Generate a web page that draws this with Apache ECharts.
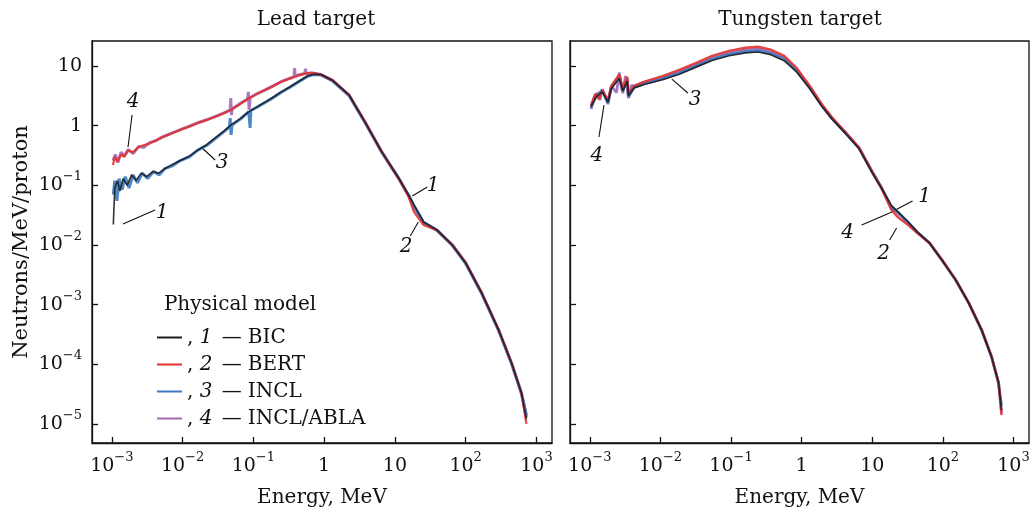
<!DOCTYPE html>
<html>
<head>
<meta charset="utf-8">
<script src="https://cdn.jsdelivr.net/npm/echarts@6/dist/echarts.min.js"></script>
<style>
  html, body { margin: 0; padding: 0; background: #fff; }
  #chart { width: 1032px; height: 507px; }
</style>
</head>
<body>
<div id="chart"></div>
<script>
// energy in MeV, flux in neutrons/MeV/proton
const leadBIC = [
  [1.05e-3, 0.022], [1.1e-3, 0.09], [1.2e-3, 0.12], [1.3e-3, 0.08], [1.45e-3, 0.13], [1.65e-3, 0.10],
  [1.9e-3, 0.15], [2.2e-3, 0.12], [2.6e-3, 0.16], [3.1e-3, 0.14], [3.8e-3, 0.17], [4.6e-3, 0.16],
  [5.6e-3, 0.19], [7e-3, 0.22], [9.3e-3, 0.26], [0.0125, 0.31], [0.0164, 0.39], [0.022, 0.48],
  [0.0286, 0.62], [0.038, 0.8], [0.0485, 1.03], [0.065, 1.3], [0.0849, 1.69], [0.11, 2.05],
  [0.147, 2.49], [0.19, 3.0], [0.245, 3.66], [0.33, 4.5], [0.422, 5.4], [0.581, 6.8], [0.72, 7.3],
  [0.9, 7.2], [1.3, 5.8], [2.25, 3.27], [3.78, 1.15], [6.56, 0.36], [11.3, 0.133], [15.5, 0.07],
  [18.6, 0.047], [25.4, 0.0243], [39.3, 0.0179], [64.7, 0.0100], [100, 0.0050], [168, 0.00157],
  [292, 3.77e-4], [445, 1.05e-4], [615, 3.3e-5], [723, 1.2e-5]
];
const leadBERT = [
  [1.04e-3, 0.22], [1.1e-3, 0.3], [1.2e-3, 0.25], [1.35e-3, 0.33], [1.5e-3, 0.3], [1.7e-3, 0.38],
  [2e-3, 0.36], [2.4e-3, 0.44], [2.8e-3, 0.47], [3.4e-3, 0.5], [4.2e-3, 0.57], [5.2e-3, 0.64],
  [7e-3, 0.74], [9.3e-3, 0.85], [0.0125, 0.97], [0.0164, 1.11], [0.022, 1.25], [0.0286, 1.4],
  [0.038, 1.62], [0.0485, 1.85], [0.065, 2.3], [0.0849, 2.85], [0.11, 3.35], [0.147, 3.96],
  [0.19, 4.6], [0.245, 5.4], [0.33, 6.2], [0.422, 6.9], [0.581, 7.6], [0.72, 7.6], [0.9, 7.2],
  [1.3, 5.85], [2.25, 3.3], [3.78, 1.17], [6.56, 0.36], [11.3, 0.13], [15.5, 0.066], [18.6, 0.036],
  [25.4, 0.0216], [39.3, 0.0177], [64.7, 0.0101], [100, 0.0051], [168, 0.0016], [292, 3.8e-4],
  [445, 1.06e-4], [615, 3.2e-5], [723, 1.0e-5]
];
const leadINCL = [
  [1.05e-3, 0.07], [1.1e-3, 0.12], [1.18e-3, 0.055], [1.27e-3, 0.13], [1.4e-3, 0.085], [1.55e-3, 0.14],
  [1.75e-3, 0.09], [2e-3, 0.15], [2.3e-3, 0.11], [2.7e-3, 0.16], [3.2e-3, 0.13], [3.9e-3, 0.17],
  [4.7e-3, 0.15], [5.6e-3, 0.19], [7e-3, 0.21], [9.3e-3, 0.26], [0.0125, 0.3], [0.0164, 0.39],
  [0.022, 0.47], [0.0286, 0.6], [0.038, 0.79], [0.046, 0.95], [0.047, 1.34], [0.0485, 0.70],
  [0.05, 1.03], [0.065, 1.28], [0.086, 1.72], [0.088, 1.85], [0.09, 0.92], [0.092, 1.8],
  [0.11, 2.0], [0.147, 2.45], [0.19, 2.95], [0.245, 3.6], [0.33, 4.4], [0.422, 5.3], [0.581, 6.7],
  [0.72, 7.2], [0.9, 7.1], [1.3, 5.7], [2.25, 3.2], [3.78, 1.13], [6.56, 0.355], [11.3, 0.131],
  [15.5, 0.069], [18.6, 0.045], [25.4, 0.0235], [39.3, 0.0176], [64.7, 0.0099], [100, 0.0049],
  [168, 0.00155], [292, 3.7e-4], [445, 1.03e-4], [615, 3.2e-5], [723, 1.3e-5]
];
const leadABLA = [
  [1.04e-3, 0.26], [1.12e-3, 0.33], [1.22e-3, 0.24], [1.35e-3, 0.36], [1.5e-3, 0.31], [1.7e-3, 0.4],
  [2e-3, 0.34], [2.4e-3, 0.45], [2.8e-3, 0.43], [3.4e-3, 0.52], [4.2e-3, 0.56], [5.2e-3, 0.65],
  [7e-3, 0.75], [9.3e-3, 0.86], [0.0125, 0.98], [0.0164, 1.12], [0.022, 1.26], [0.0286, 1.42],
  [0.038, 1.63], [0.047, 1.82], [0.048, 2.9], [0.049, 1.5], [0.05, 1.9], [0.065, 2.35], [0.083, 2.8],
  [0.085, 3.7], [0.087, 1.85], [0.09, 2.95], [0.11, 3.4], [0.147, 4.0], [0.19, 4.65], [0.245, 5.45],
  [0.33, 6.25], [0.375, 6.6], [0.383, 9.2], [0.39, 6.7], [0.422, 7.0], [0.53, 7.5], [0.545, 9.0],
  [0.56, 7.4], [0.65, 7.7], [0.72, 7.6], [0.9, 7.2], [1.3, 5.8], [2.25, 3.25], [3.78, 1.15],
  [6.56, 0.36], [11.3, 0.132], [15.5, 0.069], [18.6, 0.045], [25.4, 0.024], [39.3, 0.0178],
  [64.7, 0.0100], [100, 0.0050], [168, 0.00157], [292, 3.75e-4], [445, 1.04e-4], [615, 3.3e-5],
  [723, 1.4e-5]
];

const tungBIC = [
  [1.04e-3, 2.1], [1.25e-3, 3.1], [1.5e-3, 3.7], [1.81e-3, 2.5], [2.02e-3, 4.2], [2.62e-3, 6.2],
  [2.94e-3, 3.8], [3.4e-3, 5.6], [3.53e-3, 3.2], [4.25e-3, 4.3], [5.94e-3, 4.9], [0.0107, 5.9],
  [0.0185, 7.3], [0.0321, 9.6], [0.054, 12.4], [0.0938, 14.9], [0.16, 16.6], [0.242, 17.2],
  [0.365, 15.5], [0.567, 12.3], [0.855, 7.9], [1.3, 4.2], [1.93, 2.12], [2.68, 1.3], [4.11, 0.76],
  [6.52, 0.41], [10, 0.163], [13.6, 0.089], [18.6, 0.046], [23.2, 0.036], [31.6, 0.025],
  [43.2, 0.0166], [64.7, 0.0108], [96.9, 0.0056], [152, 0.0026], [232, 0.00107], [354, 3.77e-4],
  [490, 1.33e-4], [615, 4.9e-5], [678, 1.7e-5]
];
const tungBERT = [
  [1.04e-3, 2.2], [1.2e-3, 3.4], [1.35e-3, 2.8], [1.5e-3, 4.0], [1.81e-3, 2.7], [2.02e-3, 4.7],
  [2.62e-3, 7.2], [2.94e-3, 4.2], [3.4e-3, 6.6], [3.53e-3, 3.4], [4.25e-3, 4.7], [5.94e-3, 5.5],
  [0.0107, 6.8], [0.0185, 8.6], [0.0321, 11.3], [0.054, 14.8], [0.0938, 18.0], [0.16, 20.3],
  [0.242, 21.1], [0.365, 18.9], [0.567, 14.8], [0.855, 9.2], [1.3, 4.7], [1.93, 2.3], [2.68, 1.38],
  [4.11, 0.8], [6.52, 0.43], [10, 0.17], [13.6, 0.088], [18.6, 0.039], [23.2, 0.029], [31.6, 0.022],
  [43.2, 0.016], [64.7, 0.0108], [96.9, 0.0057], [152, 0.0026], [232, 0.00108], [354, 3.8e-4],
  [490, 1.34e-4], [615, 5.0e-5], [678, 1.4e-5]
];
const tungINCL = [
  [1.04e-3, 2.0], [1.25e-3, 3.3], [1.5e-3, 3.9], [1.81e-3, 2.4], [2.02e-3, 4.4], [2.62e-3, 6.8],
  [2.94e-3, 3.9], [3.4e-3, 6.0], [3.53e-3, 3.0], [4.25e-3, 4.4], [5.94e-3, 5.1], [0.0107, 6.1],
  [0.0185, 7.6], [0.0321, 10.0], [0.054, 13.0], [0.0938, 15.7], [0.16, 17.5], [0.242, 18.2],
  [0.365, 16.3], [0.567, 13.0], [0.855, 8.3], [1.3, 4.35], [1.93, 2.18], [2.68, 1.33], [4.11, 0.77],
  [6.52, 0.42], [10, 0.166], [13.6, 0.09], [18.6, 0.044], [23.2, 0.035], [31.6, 0.0245],
  [43.2, 0.0165], [64.7, 0.0108], [96.9, 0.0056], [152, 0.00259], [232, 0.00107], [354, 3.75e-4],
  [490, 1.32e-4], [615, 4.8e-5], [678, 2.0e-5]
];
const tungABLA = [
  [1.04e-3, 1.9], [1.15e-3, 3.0], [1.25e-3, 3.5], [1.4e-3, 2.7], [1.5e-3, 4.1], [1.81e-3, 2.3],
  [2.02e-3, 4.6], [2.4e-3, 3.6], [2.62e-3, 7.8], [2.8e-3, 4.4], [2.94e-3, 3.5], [3.2e-3, 6.8],
  [3.53e-3, 2.9], [3.9e-3, 4.8], [4.25e-3, 4.5], [5.94e-3, 5.3], [0.0107, 6.4], [0.0185, 8.0],
  [0.0321, 10.5], [0.054, 13.7], [0.0938, 16.6], [0.16, 18.6], [0.242, 19.4], [0.365, 17.3],
  [0.567, 13.7], [0.855, 8.6], [1.3, 4.45], [1.93, 2.22], [2.68, 1.35], [4.11, 0.78], [6.52, 0.42],
  [10, 0.168], [13.6, 0.09], [18.6, 0.043], [23.2, 0.034], [31.6, 0.0243], [43.2, 0.0165],
  [64.7, 0.0108], [96.9, 0.0056], [152, 0.00259], [232, 0.00107], [354, 3.77e-4], [490, 1.33e-4],
  [615, 4.9e-5], [678, 1.5e-5]
];

// decades shown on the axes (log10 of the value)
const xDecades = [-3, -2, -1, 0, 1, 2, 3];
const yDecades = [-5, -4, -3, -2, -1, 0, 1];

const models = ['BIC', 'BERT', 'INCL', 'INCL/ABLA'];
const modelNums = { 'BIC': 1, 'BERT': 2, 'INCL': 3, 'INCL/ABLA': 4 };
const COLORS = { 'BIC': '#1c1c22', 'BERT': '#e0322f', 'INCL': '#3a7bc0', 'INCL/ABLA': '#a46ab6' };
const FONT = 'DejaVu Serif';

// annotation leaders, in [log10 E, log10 F]
const notes = [
  { g: 0, t: '4', at: [-2.70, 0.40], line: [[-2.714, 0.179], [-2.771, -0.357]] },
  { g: 0, t: '3', at: [-1.44, -0.63], line: [[-1.738, -0.357], [-1.540, -0.575]] },
  { g: 0, t: '1', at: [-2.29, -1.46], line: [[-2.842, -1.648], [-2.389, -1.413]] },
  { g: 0, t: '1', at: [1.54, -1.01], line: [[1.246, -1.179], [1.458, -1.028]] },
  { g: 0, t: '2', at: [1.16, -2.03], line: [[1.218, -1.849], [1.331, -1.614]] },
  { g: 1, t: '4', at: [-2.90, -0.51], line: [[-2.870, -0.190], [-2.799, 0.346]] },
  { g: 1, t: '3', at: [-1.51, 0.43], line: [[-1.837, 0.782], [-1.611, 0.548]] },
  { g: 1, t: '1', at: [1.74, -1.195], line: [[1.246, -1.464], [1.571, -1.262]] },
  { g: 1, t: '4', at: [0.65, -1.80], line: [[0.850, -1.665], [1.246, -1.464]] },
  { g: 1, t: '2', at: [1.16, -2.15], line: [[1.246, -1.916], [1.345, -1.715]] }
];

const toLog = arr => arr.map(p => [Math.log10(p[0]), Math.log10(p[1])]);

const powLabel = v => {
  if (v === 0) return '1';
  if (v === 1) return '10';
  return '10{sup|' + (v < 0 ? '\u2212' : '') + Math.abs(v) + '}';
};

const chart = echarts.init(document.getElementById('chart'), null, { renderer: 'canvas' });

const labelStyle = {
  fontFamily: FONT, fontSize: 19, color: '#111', lineHeight: 30,
  rich: { sup: { fontFamily: FONT, fontSize: 13, lineHeight: 14, verticalAlign: 'top', color: '#111' } }
};

const makeX = (gi) => ({
  type: 'value', gridIndex: gi, min: -3.28, max: 3.22,
  name: 'Energy, MeV', nameLocation: 'middle', nameGap: 45,
  nameTextStyle: { fontFamily: FONT, fontSize: 20, color: '#111' },
  axisLine: { show: true, onZero: false, lineStyle: { color: '#111', width: 1.3 } },
  axisTick: { show: true, inside: true, length: 6, customValues: xDecades, lineStyle: { color: '#111', width: 1.3 } },
  axisLabel: Object.assign({ show: true, margin: 8, customValues: xDecades, formatter: powLabel }, labelStyle),
  splitLine: { show: false }
});

const makeY = (gi, showLabels) => ({
  type: 'value', gridIndex: gi, min: -5.32, max: 1.42,
  name: showLabels ? 'Neutrons/MeV/proton' : '', nameLocation: 'middle', nameGap: 60, nameRotate: 90,
  nameTextStyle: { fontFamily: FONT, fontSize: 21, color: '#111' },
  axisLine: { show: true, onZero: false, lineStyle: { color: '#111', width: 1.3 } },
  axisTick: { show: true, inside: true, length: 6, customValues: yDecades, lineStyle: { color: '#111', width: 1.3 } },
  axisLabel: Object.assign({ show: showLabels, margin: 10, customValues: yDecades, formatter: powLabel }, labelStyle),
  splitLine: { show: false }
});

const seriesDefs = [
  { g: 0, name: 'INCL/ABLA', data: leadABLA, w: 3 },
  { g: 0, name: 'INCL', data: leadINCL, w: 3 },
  { g: 0, name: 'BERT', data: leadBERT, w: 2.2 },
  { g: 0, name: 'BIC', data: leadBIC, w: 1.6 },
  { g: 1, name: 'INCL/ABLA', data: tungABLA, w: 2.8 },
  { g: 1, name: 'INCL', data: tungINCL, w: 2.8 },
  { g: 1, name: 'BERT', data: tungBERT, w: 2.4 },
  { g: 1, name: 'BIC', data: tungBIC, w: 1.7 }
];

const series = seriesDefs.map(s => ({
  name: s.name, type: 'line', xAxisIndex: s.g, yAxisIndex: s.g,
  data: toLog(s.data), symbol: 'none', showSymbol: false, smooth: false,
  clip: true,
  lineStyle: { color: COLORS[s.name], width: s.w, opacity: 0.9 },
  itemStyle: { color: COLORS[s.name] },
  emphasis: { disabled: true }
}));

const gridBase = { top: 41, height: 402, show: true, borderColor: '#111', borderWidth: 1.3, backgroundColor: 'transparent', containLabel: false, outerBoundsMode: 'none' };

const option = {
  backgroundColor: '#fff',
  animation: false,
  grid: [
    Object.assign({ left: 92, width: 460 }, gridBase),
    Object.assign({ left: 570, width: 459 }, gridBase)
  ],
  xAxis: [makeX(0), makeX(1)],
  yAxis: [makeY(0, true), makeY(1, false)],
  legend: {
    data: models, orient: 'vertical', left: 152, top: 322,
    icon: 'rect', itemWidth: 25, itemHeight: 2, itemGap: 6,
    selectedMode: false,
    textStyle: {
      fontFamily: FONT, fontSize: 20, color: '#111', lineHeight: 21,
      rich: {
        i: { fontFamily: FONT, fontSize: 20, fontStyle: 'italic', color: '#111' },
        d: { fontFamily: FONT, fontSize: 20, color: '#111', padding: [0, 6, 0, 3] }
      }
    },
    formatter: name => ', {i|' + modelNums[name] + '} {d|\u2014}' + name
  },
  series: series
};

chart.setOption(option);

// titles, legend caption and curve numbers
const txt = (x, y, text, size, italic) => ({
  type: 'text', x: x, y: y, silent: true,
  style: {
    text: text, fill: '#111', textAlign: 'center', textVerticalAlign: 'middle',
    font: (italic ? 'italic ' : '') + size + 'px "' + FONT + '"'
  }
});

const graphics = [
  txt(316, 20, 'Lead target', 20, false),
  txt(800, 20, 'Tungsten target', 20, false),
  txt(240, 305, 'Physical model', 20, false)
];

notes.forEach(n => {
  const p = chart.convertToPixel({ gridIndex: n.g }, n.at);
  const a = chart.convertToPixel({ gridIndex: n.g }, n.line[0]);
  const b = chart.convertToPixel({ gridIndex: n.g }, n.line[1]);
  graphics.push({
    type: 'line', silent: true,
    shape: { x1: a[0], y1: a[1], x2: b[0], y2: b[1] },
    style: { stroke: '#111', lineWidth: 1.1 }
  });
  graphics.push(txt(p[0], p[1], n.t, 20, true));
});

chart.setOption({ graphic: graphics });
</script>
</body>
</html>
